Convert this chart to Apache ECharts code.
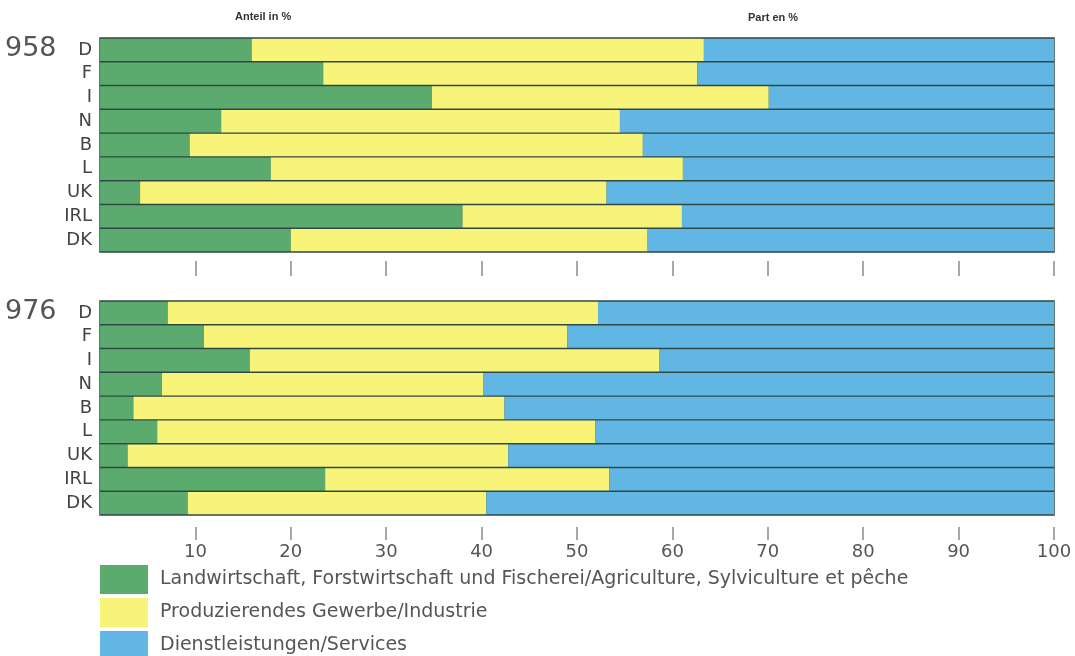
<!DOCTYPE html>
<html>
<head>
<meta charset="utf-8">
<script src="https://cdn.jsdelivr.net/npm/echarts@6/dist/echarts.min.js"></script>
<style>
html,body{margin:0;padding:0;background:#fff;}
#c{width:1075px;height:656px;}
</style>
</head>
<body>
<div id="c"></div>
<script>
const countries = ['D','F','I','N','B','L','UK','IRL','DK'];
const yearLabels = ['958','976'];
const seriesNames = [
  'Landwirtschaft, Forstwirtschaft und Fischerei/Agriculture, Sylviculture et pêche',
  'Produzierendes Gewerbe/Industrie',
  'Dienstleistungen/Services'
];
const tickValues = [10,20,30,40,50,60,70,80,90,100];
// 1958
const agri1958 = [15.9,23.4,34.8,12.7,9.4,17.9,4.2,38.0,20.0];
const ind1958  = [47.4,39.2,35.3,41.8,47.5,43.2,48.9,23.0,37.4];
const serv1958 = [36.7,37.4,29.9,45.5,43.1,38.9,46.9,39.0,42.6];
// 1976
const agri1976 = [7.1,10.9,15.7,6.5,3.5,6.0,2.9,23.6,9.2];
const ind1976  = [45.1,38.1,42.9,33.7,38.9,45.9,39.9,29.8,31.3];
const serv1976 = [47.8,51.0,41.4,59.8,57.6,48.1,57.2,46.6,59.5];

const colors = ['#5cab6e','#f8f47a','#62b6e4'];
const lineColor = '#2f4844';
const font = '"DejaVu Sans", "Liberation Sans", Arial, sans-serif';
const boldFont = '"Liberation Sans", Arial, sans-serif';

const chart = echarts.init(document.getElementById('c'), null, {renderer:'canvas'});

function gridDef(top){
  return {left:100, right:21, top:top, height:214, show:true, backgroundColor:lineColor, borderColor:lineColor, borderWidth:1.5};
}
function xAxisDef(gi, offset, tickLen, labels){
  return {
    type:'value', gridIndex:gi, min:0, max:100, interval:10, position:'bottom', offset:offset,
    axisLine:{show:false},
    axisTick:{show:true, length:tickLen, customValues:tickValues, lineStyle:{color:'#8a8a8a', width:1.5}},
    axisLabel:{show:labels, customValues:tickValues, margin:16, color:'#555', fontSize:18, fontFamily:font},
    splitLine:{show:false}
  };
}
function yAxisDef(gi){
  return {
    type:'category', gridIndex:gi, data:countries, inverse:true,
    axisLine:{show:false}, axisTick:{show:false},
    axisLabel:{color:'#444', fontSize:18, fontFamily:font, margin:8}
  };
}
const blocks = [[agri1958,ind1958,serv1958],[agri1976,ind1976,serv1976]];
const series = [];
blocks.forEach((blk, gi)=>{
  blk.forEach((vals, si)=>{
    series.push({
      name: seriesNames[si], type:'bar', stack:'s'+gi, xAxisIndex:gi, yAxisIndex:gi,
      data: vals, barCategoryGap:'6%', barGap:'0%',
      itemStyle:{color:colors[si]}, silent:true
    });
  });
});

chart.setOption({
  animation:false,
  backgroundColor:'#fff',
  grid:[gridDef(38), gridDef(301)],
  xAxis:[xAxisDef(0, 9, 15, false), xAxisDef(1, 12, 13, true)],
  yAxis:[yAxisDef(0), yAxisDef(1)],
  legend:{
    orient:'vertical', left:100, top:565, height:140, padding:0, itemWidth:48, itemHeight:29, itemGap:4,
    icon:'rect', data:seriesNames, selectedMode:false,
    textStyle:{color:'#555', fontSize:19, fontFamily:font, padding:[0,0,0,7]}
  },
  graphic:[
    {type:'text', left:5, top:35, style:{text:yearLabels[0], fontSize:27, fill:'#555', fontFamily:font}},
    {type:'text', left:5, top:298, style:{text:yearLabels[1], fontSize:27, fill:'#555', fontFamily:font}},
    {type:'text', left:235, top:11, style:{text:'Anteil in %', fontSize:11, fontWeight:'bold', fill:'#333', fontFamily:boldFont}},
    {type:'text', left:748, top:12, style:{text:'Part en %', fontSize:11, fontWeight:'bold', fill:'#333', fontFamily:boldFont}}
  ],
  series:series
});
</script>
</body>
</html>
